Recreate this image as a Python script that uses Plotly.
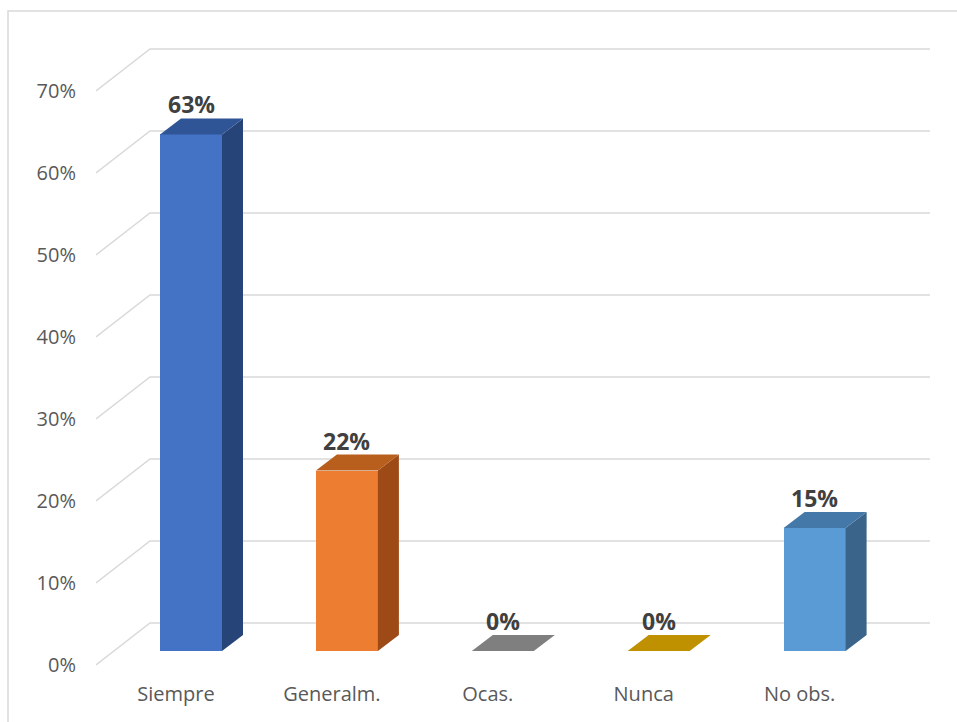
import plotly.graph_objects as go

categories = ["Siempre", "Generalm.", "Ocas.", "Nunca", "No obs."]
values = [63, 22, 0, 0, 15]
value_labels = ["63%", "22%", "0%", "0%", "15%"]
tick_values = [0, 10, 20, 30, 40, 50, 60, 70]
tick_labels = ["0%", "10%", "20%", "30%", "40%", "50%", "60%", "70%"]

front_colors = ["#4472C4", "#ED7D31", "#7F7F7F", "#BF9000", "#5B9BD5"]
top_colors = ["#2F5597", "#B85F1E", "#7F7F7F", "#BF9000", "#4478A8"]
side_colors = ["#264478", "#9E4A16", "#666666", "#997300", "#3A6489"]

# geometry (pixel scale -> data units)
W, H = 957, 722
ML, MR, MT, MB = 96, 27, 40, 42
PX_X = 155.9   # pixels per category unit
PX_Y = 8.2     # pixels per percent
X0_PX = 176    # pixel of category 0 at the front plane
FLOOR_PX = 665 # pixel of 0% at the front plane

x_lo = (ML - X0_PX) / PX_X
x_hi = x_lo + (W - ML - MR) / PX_X
y_hi = (FLOOR_PX - MT) / PX_Y
y_lo = (FLOOR_PX - (H - MB)) / PX_Y

WALL_DX, WALL_DY = 54 / PX_X, 42 / PX_Y     # depth of back wall
FX, FY = 15 / PX_X, 14 / PX_Y               # front face offset
BX, BY = 21 / PX_X, 16 / PX_Y               # bar depth
HW = 31 / PX_X                              # half bar width

fig = go.Figure()

# gridlines (slanted side + back wall)
shapes = []
for t in tick_values:
    path = (f"M {x_lo},{t} L {x_lo + WALL_DX},{t + WALL_DY} L {x_hi},{t + WALL_DY}")
    shapes.append(dict(type="path", path=path, xref="x", yref="y", layer="below",
                       line=dict(color="#D9D9D9", width=1.5)))

# chart border
shapes.append(dict(type="rect", xref="paper", yref="paper",
                   x0=(8 - ML) / (W - ML - MR), x1=1.2,
                   y0=-0.2, y1=((H - MB) - 11) / (H - MT - MB),
                   line=dict(color="#D9D9D9", width=1.5), layer="below"))

xs = [i + FX for i in range(len(categories))]

# front faces
fig.add_trace(go.Bar(x=xs, y=values, base=[FY] * len(values), width=2 * HW,
                     marker=dict(color=front_colors, line=dict(width=0)),
                     hoverinfo="skip", showlegend=False))

for i, v in enumerate(values):
    xl, xr = xs[i] - HW, xs[i] + HW
    top = v + FY
    # side face
    if v > 0:
        fig.add_trace(go.Scatter(
            x=[xr, xr + BX, xr + BX, xr, xr],
            y=[FY, FY + BY, top + BY, top, FY],
            fill="toself", fillcolor=side_colors[i], mode="lines",
            line=dict(width=0, color=side_colors[i]),
            hoverinfo="skip", showlegend=False))
    # top face
    fig.add_trace(go.Scatter(
        x=[xl, xl + BX, xr + BX, xr, xl],
        y=[top, top + BY, top + BY, top, top],
        fill="toself", fillcolor=top_colors[i], mode="lines",
        line=dict(width=0, color=top_colors[i]),
        hoverinfo="skip", showlegend=False))

annotations = []
for i, v in enumerate(values):
    annotations.append(dict(x=xs[i], y=v + FY + BY, text=value_labels[i],
                            xref="x", yref="y", showarrow=False,
                            xanchor="center", yanchor="bottom", yshift=-4,
                            font=dict(family="Open Sans", size=23, color="#404040",
                                      weight="bold")))

fig.update_layout(
    width=W, height=H,
    margin=dict(l=ML, r=MR, t=MT, b=MB),
    paper_bgcolor="white", plot_bgcolor="white",
    shapes=shapes, annotations=annotations,
    bargap=0,
    xaxis=dict(range=[x_lo, x_hi], tickvals=list(range(len(categories))),
               ticktext=categories, showgrid=False, zeroline=False,
               showline=False, ticks="", fixedrange=True,
               tickfont=dict(family="Open Sans", size=20, color="#595959")),
    yaxis=dict(range=[y_lo, y_hi], tickvals=tick_values, ticktext=tick_labels,
               showgrid=False, zeroline=False, showline=False, ticks="",
               ticklabelstandoff=19, fixedrange=True,
               tickfont=dict(family="Open Sans", size=20, color="#595959")),
)

fig.write_html("out.html")
